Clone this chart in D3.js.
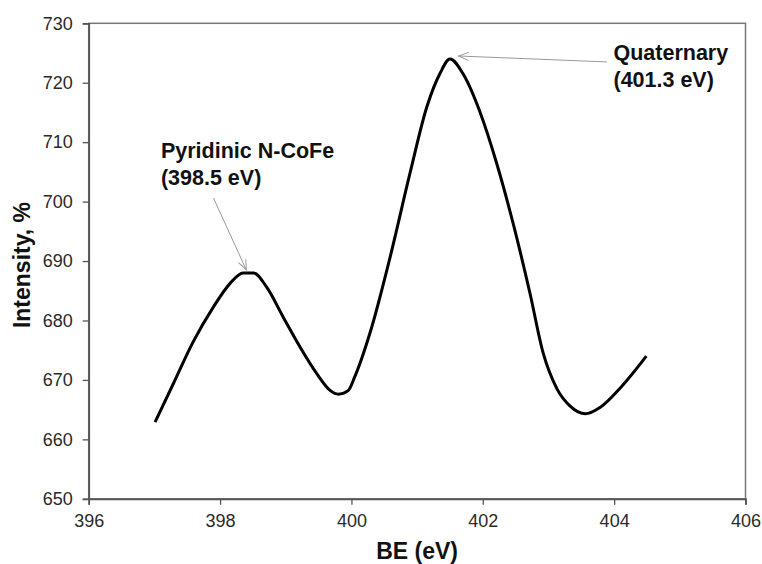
<!DOCTYPE html>
<html>
<head>
<meta charset="utf-8">
<script src="https://cdn.jsdelivr.net/npm/d3@7/dist/d3.min.js"></script>
<style>
  html, body { margin: 0; padding: 0; background: #fff; }
  svg { display: block; }
  text { font-family: "Liberation Sans", Arial, sans-serif; }
</style>
</head>
<body>
<svg id="chart" width="762" height="564"></svg>
<script>
// ---- data ----
const beValues = [397.01, 397.29, 397.59, 397.90, 398.15, 398.35, 398.51, 398.71, 398.96, 399.22, 399.47, 399.68, 399.80, 399.95, 400.05, 400.28, 400.59, 400.89, 401.15, 401.35, 401.50, 401.71, 401.96, 402.21, 402.47, 402.72, 402.92, 403.13, 403.33, 403.56, 403.79, 404.09, 404.49];
const intensityValues = [662.9, 669.4, 676.4, 682.3, 686.2, 688.0, 688.0, 685.6, 680.6, 675.5, 671.1, 668.2, 667.6, 668.2, 670.5, 677.8, 690.7, 704.7, 716.0, 721.6, 724.0, 721.3, 715.0, 706.5, 696.0, 684.5, 674.5, 668.5, 665.6, 664.3, 665.4, 668.6, 674.0];
const xTicks = [396, 398, 400, 402, 404, 406];
const yTicks = [650, 660, 670, 680, 690, 700, 710, 720, 730];
const xTitle = "BE (eV)";
const yTitle = "Intensity, %";
const annotationLines = [["Pyridinic N-CoFe", "(398.5 eV)"], ["Quaternary", "(401.3 eV)"]];
const annotationText = [[397.1, 707.3], [403.99, 723.9]];   // text anchor (BE, intensity)
const annotationTail = [[397.90, 700.6], [403.89, 723.5]];
const annotationTip = [[398.40, 688.5], [401.63, 724.5]];

// ---- layout ----
const svg = d3.select("#chart");
const mLeft = 88.7, mRight = 745.5, mTop = 23.3, mBottom = 498.8;
const x = d3.scaleLinear().domain([396, 406]).range([mLeft, mRight]);
const y = d3.scaleLinear().domain([650, 730]).range([mBottom, mTop]);

svg.append("defs").append("marker")
  .attr("id", "arr").attr("viewBox", "0 0 12 10").attr("refX", 11).attr("refY", 5)
  .attr("markerWidth", 12).attr("markerHeight", 10).attr("markerUnits", "userSpaceOnUse")
  .attr("orient", "auto")
  .append("path").attr("d", "M1,1 L11,5 L1,9").attr("fill", "none")
  .attr("stroke", "#999").attr("stroke-width", 1);

// frame
svg.append("rect").attr("x", mLeft).attr("y", mTop)
  .attr("width", mRight - mLeft).attr("height", mBottom - mTop)
  .attr("fill", "none").attr("stroke", "#777").attr("stroke-width", 1.5);

// axes
const xAxis = d3.axisBottom(x).tickValues(xTicks).tickSize(6).tickPadding(9).tickFormat(d3.format("d"));
const gx = svg.append("g").attr("transform", `translate(0,${mBottom})`).call(xAxis);
const yAxis = d3.axisLeft(y).tickValues(yTicks).tickSize(6).tickPadding(10).tickFormat(d3.format("d"));
const gy = svg.append("g").attr("transform", `translate(${mLeft},0)`).call(yAxis);
[gx, gy].forEach(g => {
  g.select(".domain").attr("stroke", "#555").attr("stroke-width", 1.8);
  g.selectAll(".tick line").attr("stroke", "#555").attr("stroke-width", 1.3);
  g.selectAll(".tick text").attr("font-size", 18).attr("fill", "#2a2a2a")
    .attr("font-family", "'Liberation Sans', Arial, sans-serif");
});

// axis titles
svg.append("text").attr("x", (mLeft + mRight) / 2).attr("y", 559).attr("text-anchor", "middle")
  .attr("font-size", 23).attr("font-weight", "bold").attr("fill", "#111").text(xTitle);
svg.append("text").attr("transform", `translate(30,${(mTop + mBottom) / 2 + 4}) rotate(-90)`)
  .attr("text-anchor", "middle").attr("font-size", 23).attr("font-weight", "bold")
  .attr("fill", "#111").text(yTitle);

// curve
const pts = beValues.map((b, i) => [b, intensityValues[i]]);
svg.append("path").datum(pts)
  .attr("d", d3.line().x(d => x(d[0])).y(d => y(d[1])).curve(d3.curveMonotoneX))
  .attr("fill", "none").attr("stroke", "#000").attr("stroke-width", 3)
  .attr("stroke-linejoin", "round");

// annotations
annotationLines.forEach((lines, i) => {
  svg.append("line")
    .attr("x1", x(annotationTail[i][0])).attr("y1", y(annotationTail[i][1]))
    .attr("x2", x(annotationTip[i][0])).attr("y2", y(annotationTip[i][1]))
    .attr("stroke", "#999").attr("stroke-width", 1).attr("marker-end", "url(#arr)");
  const t = svg.append("text").attr("x", x(annotationText[i][0])).attr("y", y(annotationText[i][1]))
    .attr("font-size", 21.5).attr("font-weight", "bold").attr("fill", "#111");
  lines.forEach((s, j) => {
    t.append("tspan").attr("x", x(annotationText[i][0])).attr("dy", j === 0 ? 0 : 27).text(s);
  });
});
</script>
</body>
</html>
